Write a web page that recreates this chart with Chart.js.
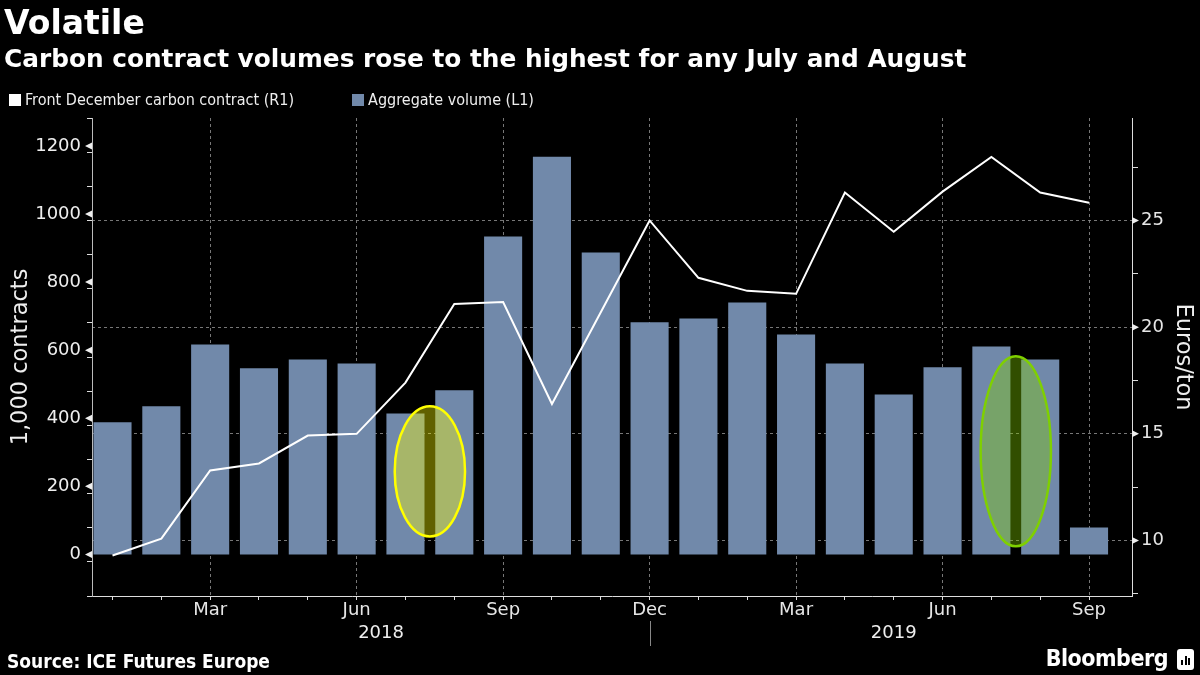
<!DOCTYPE html>
<html>
<head>
<meta charset="utf-8">
<script src="https://cdn.jsdelivr.net/npm/chart.js@4.4.1/dist/chart.umd.min.js"></script>
<style>
  html, body { margin: 0; padding: 0; background: #000; }
  body { width: 1200px; height: 675px; position: relative; overflow: hidden; color: #fff; font-family: 'DejaVu Sans', sans-serif; }
  #chart { position: absolute; left: 0; top: 0; }
  .title { position: absolute; left: 4px; top: 5px; font-weight: bold; font-size: 33px; line-height: 36px; }
  .subtitle { position: absolute; left: 4px; top: 45px; font-weight: bold; font-size: 24.8px; line-height: 28px; }
  .legend { position: absolute; left: 9px; top: 91px; font-family: 'DejaVu Sans Condensed', 'DejaVu Sans', sans-serif; font-stretch: condensed; font-size: 16px; line-height: 18px; color: #eee; }
  .legend span.box { display: inline-block; width: 12px; height: 12px; margin-right: 4px; vertical-align: -1px; }
  .legend span.item { margin-right: 58px; }
  .source { position: absolute; left: 7px; top: 650px; font-family: 'DejaVu Sans Condensed', 'DejaVu Sans', sans-serif; font-stretch: condensed; font-weight: bold; font-size: 19px; }
  .brand { position: absolute; right: 32px; top: 645px; font-family: 'DejaVu Sans Condensed', 'DejaVu Sans', sans-serif; font-stretch: condensed; font-weight: bold; font-size: 23px; letter-spacing: -0.5px; }
  .logo { position: absolute; left: 1177px; top: 649px; width: 17px; height: 21px; background: #fff; border-radius: 3px; }
  .logo i { position: absolute; bottom: 5px; width: 2px; background: #000; }
</style>
</head>
<body>
<canvas id="chart" width="1200" height="675"></canvas>
<div class="title">Volatile</div>
<div class="subtitle">Carbon contract volumes rose to the highest for any July and August</div>
<div class="legend"><span class="item"><span class="box" style="background:#fff"></span>Front December carbon contract (R1)</span><span class="item"><span class="box" style="background:#7189aa"></span>Aggregate volume (L1)</span></div>
<div class="source">Source: ICE Futures Europe</div>
<div class="brand">Bloomberg</div>
<div class="logo"><i style="left:4px;height:5px"></i><i style="left:7.5px;height:9px"></i><i style="left:11px;height:7px"></i></div>
<script>
// months Jan 2018 .. Sep 2019
const months = ['Jan', 'Feb', 'Mar', 'Apr', 'May', 'Jun', 'Jul', 'Aug', 'Sep', 'Oct', 'Nov', 'Dec',
                'Jan', 'Feb', 'Mar', 'Apr', 'May', 'Jun', 'Jul', 'Aug', 'Sep'];
const monthYears = [2018, 2018, 2018, 2018, 2018, 2018, 2018, 2018, 2018, 2018, 2018, 2018,
                    2019, 2019, 2019, 2019, 2019, 2019, 2019, 2019, 2019];
const labelledMonths = ['Mar', 'Jun', 'Sep', 'Dec'];

// aggregate volume, 1,000 contracts (L1)
const volume = [388, 435, 617, 547, 573, 561, 414, 482, 934, 1168, 887, 682,
                693, 740, 646, 561, 470, 550, 611, 573, 79];
// front December carbon contract, euros/ton (R1)
const price = [9.30, 10.09, 13.28, 13.61, 14.92, 15.0, 17.40, 21.08, 21.18, 16.40, 20.7, 25.0,
               22.31, 21.7, 21.56, 26.31, 24.47, 26.35, 27.97, 26.31, 25.83];

const leftTicks = [0, 200, 400, 600, 800, 1000, 1200];
const rightTicks = [10, 15, 20, 25];

// highlighted Jul/Aug gaps: between month index a and b, volume range lo..hi
const highlights = [
    {a: 6, b: 7, lo: 53, hi: 435, fill: 'rgba(255,255,0,0.38)', line: '#ffff00'},
    {a: 18, b: 19, lo: 24, hi: 582, fill: 'rgba(128,205,0,0.38)', line: '#7fd000'}
];

const tickFont = {family: "'DejaVu Sans', sans-serif", size: 18};
const titleFont = {family: "'DejaVu Sans', sans-serif", size: 22.5};
const gridGray = 'rgba(140,140,140,0.85)';

const extras = {
    id: 'extras',
    afterDatasetsDraw(chart) {
        const ctx = chart.ctx;
        const {x, y} = chart.scales;
        ctx.save();
        highlights.forEach(h => {
            const cx = x.getPixelForValue((h.a + h.b) / 2);
            const rx = x.getPixelForValue(h.b + 0.22) - cx;
            const top = y.getPixelForValue(h.hi);
            const bot = y.getPixelForValue(h.lo);
            ctx.beginPath();
            ctx.ellipse(cx, (top + bot) / 2, rx, (bot - top) / 2, 0, 0, Math.PI * 2);
            ctx.fillStyle = h.fill;
            ctx.fill();
            ctx.lineWidth = 2.5;
            ctx.strokeStyle = h.line;
            ctx.stroke();
        });
        ctx.restore();
    },
    afterDraw(chart) {
        const ctx = chart.ctx;
        const {x, y, y1} = chart.scales;
        ctx.save();
        ctx.fillStyle = '#eee';
        ctx.font = "18px 'DejaVu Sans', sans-serif";
        ctx.textBaseline = 'middle';
        // left axis: triangle ticks and labels
        ctx.textAlign = 'right';
        leftTicks.forEach(v => {
            const py = y.getPixelForValue(v);
            ctx.beginPath();
            ctx.moveTo(y.right, py - 3.5);
            ctx.lineTo(y.right - 7, py);
            ctx.lineTo(y.right, py + 3.5);
            ctx.fill();
            ctx.fillText(String(v), y.right - 11, py);
        });
        // right axis triangles
        rightTicks.forEach(v => {
            const py = y1.getPixelForValue(v);
            ctx.beginPath();
            ctx.moveTo(y1.left, py - 3.5);
            ctx.lineTo(y1.left + 7, py);
            ctx.lineTo(y1.left, py + 3.5);
            ctx.fill();
        });
        // year row
        ctx.textAlign = 'center';
        const yearList = [...new Set(monthYears)];
        yearList.forEach(yr => {
            const idx = monthYears.map((m, i) => m === yr ? i : -1).filter(i => i >= 0);
            const mid = (idx[0] + idx[idx.length - 1]) / 2;
            ctx.fillText(String(yr), x.getPixelForValue(mid), 633);
        });
        // separator under December
        const sep = x.getPixelForValue(monthYears.lastIndexOf(2018));
        ctx.strokeStyle = '#888';
        ctx.lineWidth = 1;
        ctx.beginPath();
        ctx.moveTo(Math.round(sep) + 0.5, 621);
        ctx.lineTo(Math.round(sep) + 0.5, 646);
        ctx.stroke();
        ctx.restore();
    }
};

const ctx = document.getElementById('chart');
new Chart(ctx, {
    type: 'bar',
    data: {
        datasets: [
            {
                type: 'line',
                label: 'Front December carbon contract (R1)',
                data: price.map((v, i) => ({x: i, y: v})),
                yAxisID: 'y1',
                borderColor: '#ffffff',
                borderWidth: 2,
                pointRadius: 0,
                tension: 0,
                order: 0
            },
            {
                label: 'Aggregate volume (L1)',
                data: volume.map((v, i) => ({x: i, y: v})),
                yAxisID: 'y',
                backgroundColor: '#7189aa',
                barPercentage: 0.78,
                categoryPercentage: 1,
                order: 1
            }
        ]
    },
    options: {
        responsive: false,
        animation: false,
        layout: { padding: { top: 118, left: 0, right: 0, bottom: 0 } },
        plugins: { legend: { display: false }, tooltip: { enabled: false } },
        scales: {
            x: {
                type: 'linear',
                offset: false,
                min: -0.42,
                max: 20.88,
                afterFit: s => { s.height = 79; },
                ticks: {
                    stepSize: 1,
                    autoSkip: false,
                    maxRotation: 0,
                    includeBounds: false,
                    color: '#e6e6e6',
                    font: tickFont,
                    padding: 0,
                    callback: v => (Number.isInteger(v) && labelledMonths.includes(months[v])) ? months[v] : ''
                },
                grid: {
                    offset: false,
                    color: c => (c.tick && labelledMonths.includes(months[c.tick.value])) ? gridGray : 'rgba(0,0,0,0)',
                    tickColor: '#ddd',
                    tickLength: 4,
                    lineWidth: 1
                },
                border: { display: true, color: '#ddd', width: 1, dash: [3, 3] }
            },
            y: {
                position: 'left',
                min: -122,
                max: 1282,
                afterFit: s => { s.width = 92; },
                ticks: {
                    display: false,
                    stepSize: 100,
                    includeBounds: false
                },
                grid: {
                    drawOnChartArea: false,
                    tickColor: c => (c.tick && leftTicks.includes(c.tick.value)) ? 'rgba(0,0,0,0)' : '#ddd',
                    tickLength: 5
                },
                border: { display: true, color: '#bbb', width: 1 },
                title: {
                    display: true,
                    text: '1,000 contracts',
                    color: '#eee',
                    font: titleFont,
                    padding: {top: 8, bottom: 0}
                }
            },
            y1: {
                position: 'right',
                min: 7.4,
                max: 29.8,
                afterFit: s => { s.width = 68; },
                ticks: {
                    stepSize: 2.5,
                    includeBounds: false,
                    color: '#e6e6e6',
                    font: tickFont,
                    padding: 3,
                    callback: v => rightTicks.includes(v) ? v : ''
                },
                grid: {
                    color: c => (c.tick && rightTicks.includes(c.tick.value)) ? gridGray : 'rgba(0,0,0,0)',
                    tickColor: c => (c.tick && rightTicks.includes(c.tick.value)) ? 'rgba(0,0,0,0)' : '#ddd',
                    tickLength: 6
                },
                border: { display: true, color: '#ddd', width: 1, dash: [3, 3] },
                title: {
                    display: true,
                    text: 'Euros/ton',
                    color: '#eee',
                    font: titleFont,
                    padding: {top: 4, bottom: 0}
                }
            }
        }
    },
    plugins: [extras]
});
</script>
</body>
</html>
